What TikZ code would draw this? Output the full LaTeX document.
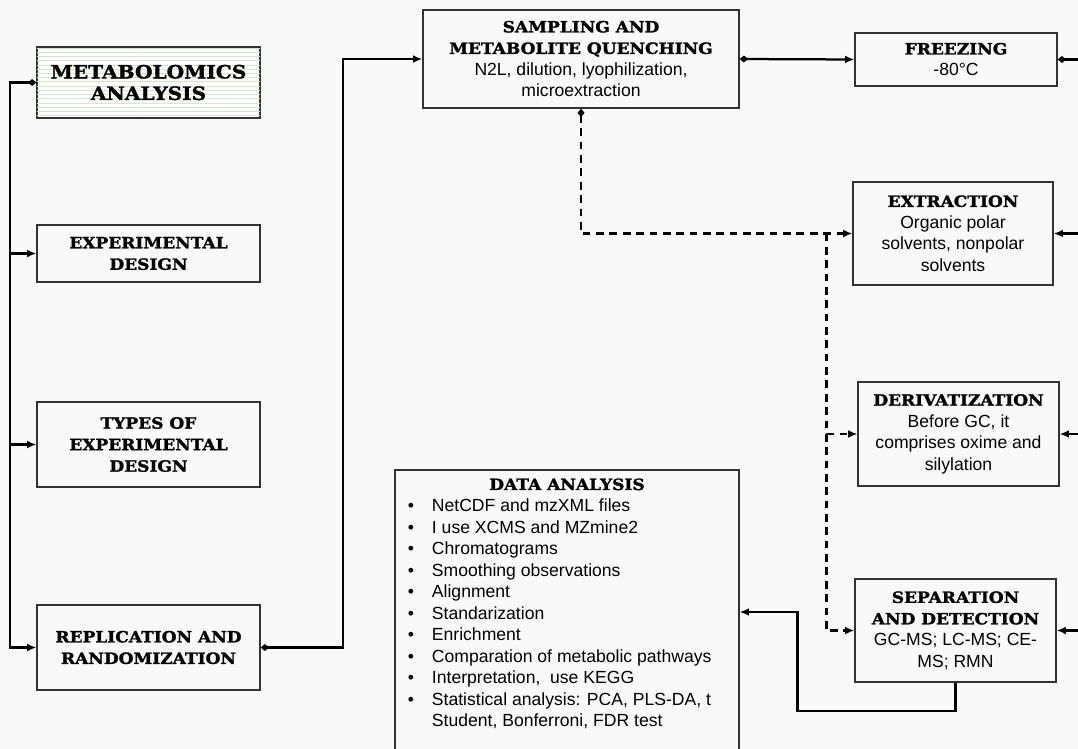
\documentclass[tikz,border=0pt]{standalone}
\usepackage{fontspec}
\setmainfont{Liberation Sans}
\newfontfamily\titlefont{DejaVu Serif}[FakeStretch=1.1, BoldFeatures={FakeBold=1.6}]
\usetikzlibrary{arrows.meta,patterns,positioning}
\definecolor{pagegray}{RGB}{249,249,249}
\definecolor{framegray}{RGB}{51,51,51}
\definecolor{stripegreen}{RGB}{214,232,204}

\newcommand{\stagetitle}[1]{{\titlefont\bfseries\fontsize{11}{15}\selectfont #1}}

\begin{document}
\begin{tikzpicture}[x=0.025cm, y=-0.025cm,
    stage/.style={draw=framegray, line width=0.9pt, align=center, inner sep=2pt,
      font=\fontsize{12.5}{15.3}\selectfont},
    link/.style={line width=1.6pt, -{Latex[length=6.5pt,width=5.5pt]}},
    dotlink/.style={link, {Diamond[length=6pt,width=5pt]}-{Latex[length=6.5pt,width=5.5pt]}},
    dashlink/.style={link, line width=1.9pt, dash pattern=on 5.5pt off 4pt}]
    \useasboundingbox[fill=pagegray] (0,0) rectangle (1078,749);

    % Design column
    \node[stage, minimum width=5.575cm, minimum height=1.775cm, fill=white,
      postaction={pattern=horizontal lines, pattern color=stripegreen}] (meta) at (148.5,82.5)
      {\stagetitle{\fontsize{13}{17}\selectfont METABOLOMICS}\\\stagetitle{\fontsize{13}{17}\selectfont ANALYSIS}};
    \node[stage, minimum width=5.575cm, minimum height=1.425cm] (expdesign) at (148.5,253.5)
      {\stagetitle{EXPERIMENTAL}\\\stagetitle{DESIGN}};
    \node[stage, minimum width=5.575cm, minimum height=2.125cm] (types) at (148.5,444.5)
      {\stagetitle{TYPES OF}\\\stagetitle{EXPERIMENTAL}\\\stagetitle{DESIGN}};
    \node[stage, minimum width=5.575cm, minimum height=2.125cm] (replic) at (148.5,647.5)
      {\stagetitle{REPLICATION AND}\\\stagetitle{RANDOMIZATION}};

    % Lab steps
    \node[stage, minimum width=7.9cm, minimum height=2.45cm] (sampling) at (581,59)
      {\stagetitle{SAMPLING AND}\\\stagetitle{METABOLITE QUENCHING}\\N2L, dilution, lyophilization,\\microextraction};
    \node[stage, minimum width=5.05cm, minimum height=1.325cm] (freeze) at (956,59.5)
      {\stagetitle{FREEZING}\\-80°C};
    \node[stage, minimum width=5.0cm, minimum height=2.575cm] (extract) at (953,233.5)
      {\stagetitle{EXTRACTION}\\Organic polar\\solvents, nonpolar\\solvents};
    \node[stage, minimum width=5.025cm, minimum height=2.6cm] (deriv) at (958.5,434)
      {\stagetitle{DERIVATIZATION}\\Before GC, it\\comprises oxime and\\silylation};
    \node[stage, minimum width=5.025cm, minimum height=2.575cm] (separ) at (955.5,630.5)
      {\stagetitle{SEPARATION}\\\stagetitle{AND DETECTION}\\GC-MS; LC-MS; CE-\\MS; RMN};

    % Data analysis
    \node[stage, minimum width=8.6cm, minimum height=7.1cm, inner xsep=0pt] (data) at (567,612)
      {\begin{tabular}{@{}p{0.6cm}@{}p{7.35cm}@{}}
        \multicolumn{2}{c}{\stagetitle{DATA ANALYSIS}}\\
        \textbullet & NetCDF and mzXML files\\
        \textbullet & I use XCMS and MZmine2\\
        \textbullet & Chromatograms\\
        \textbullet & Smoothing observations\\
        \textbullet & Alignment\\
        \textbullet & Standarization\\
        \textbullet & Enrichment\\
        \textbullet & Comparation of metabolic pathways\\
        \textbullet & Interpretation,\ \ use KEGG\\
        \textbullet & Statistical analysis: PCA, PLS-DA, t\newline Student, Bonferroni, FDR test\\[0.4cm]
      \end{tabular}};

    % Left trunk
    \draw[dotlink] (meta.west) -- ++(-26,0) coordinate (trunk) |- (replic.west);
    \draw[link] (trunk |- expdesign.west) -- (expdesign.west);
    \draw[link] (trunk |- types.west) -- (types.west);

    % Main flow
    \draw[dotlink] (replic.east) -- ++(82,0) |- (sampling.west);
    \draw[dotlink] (sampling.east) -- (freeze.west);
    \draw[link, {Diamond[length=6pt,width=5pt]}-] (freeze.east) -- ++(40,0) coordinate (freezeout);

    % Dashed branches
    \draw[dashlink, {Diamond[length=6pt,width=5pt]}-{Latex[length=6.5pt,width=5.5pt]}] (sampling.south) |- (extract.west);
    \path (extract.west) ++(-26,0) coordinate (dsplit);
    \draw[dashlink] (dsplit) |- (separ.west);
    \draw[dashlink] (dsplit |- deriv.west) -- (deriv.west);

    % Incoming from the right
    \path (extract.east) ++(40,0) coordinate (extractin);
    \path (deriv.east) ++(40,0) coordinate (derivin);
    \path (separ.east) ++(40,0) coordinate (separin);
    \draw[link] (extractin) -- (extract.east);
    \draw[link] (derivin) -- (deriv.east);
    \draw[link] (separin) -- (separ.east);

    % Back to data analysis
    \draw[link] (separ.south) |- ++(-158,28) |- (data.east);
\end{tikzpicture}
\end{document}
